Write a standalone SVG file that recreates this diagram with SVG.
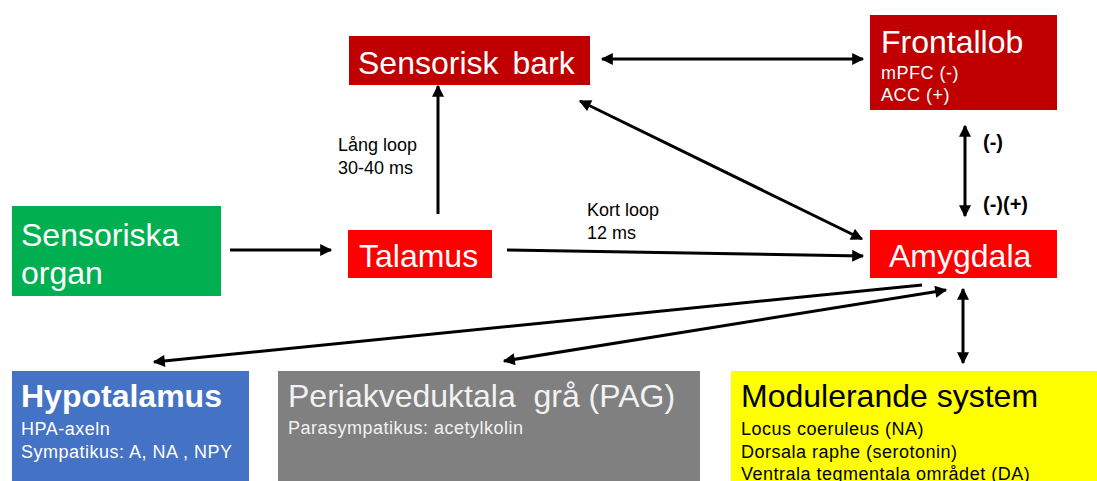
<svg xmlns="http://www.w3.org/2000/svg" width="1097" height="481" viewBox="0 0 1097 481">
<style>
text{font-family:"Liberation Sans",Arial,sans-serif}
.t30{font-size:32px}
.t16{font-size:18px;letter-spacing:0.5px}
.lb{font-size:18px}
.pm{font-size:20px;font-weight:bold}
.w{fill:#fff}
.k{fill:#000}
.ln{stroke:#000;stroke-width:3;fill:none}
</style>
<defs>
<marker id="ah" viewBox="0 0 10 10" refX="9" refY="5" markerWidth="14" markerHeight="12" markerUnits="userSpaceOnUse" orient="auto-start-reverse">
<path d="M0,0 L10,5 L0,10 z" fill="#000"/>
</marker>
</defs>
<rect width="1097" height="481" fill="#fff"/>
<g id="connectors">
<line class="ln" x1="230" y1="250" x2="331" y2="250" marker-end="url(#ah)"/>
<line class="ln" x1="438" y1="214" x2="438" y2="86" marker-end="url(#ah)"/>
<line class="ln" x1="507" y1="250" x2="863" y2="256" marker-end="url(#ah)"/>
<line class="ln" x1="602" y1="59" x2="863" y2="59" marker-start="url(#ah)" marker-end="url(#ah)"/>
<line class="ln" x1="580" y1="101" x2="862" y2="239" marker-start="url(#ah)" marker-end="url(#ah)"/>
<line class="ln" x1="965" y1="126" x2="965" y2="216" marker-start="url(#ah)" marker-end="url(#ah)"/>
<line class="ln" x1="922" y1="285" x2="154" y2="362" marker-end="url(#ah)"/>
<line class="ln" x1="946" y1="290" x2="504" y2="361" marker-start="url(#ah)" marker-end="url(#ah)"/>
<line class="ln" x1="963" y1="289" x2="963" y2="363" marker-start="url(#ah)" marker-end="url(#ah)"/>
</g>
<g id="labels">
<text class="lb k" x="338" y="151">Lång loop</text>
<text class="lb k" x="338" y="174">30-40 ms</text>
<text class="lb k" x="587" y="216">Kort loop</text>
<text class="lb k" x="587" y="239">12 ms</text>
<text class="pm k" x="983" y="149">(-)</text>
<text class="pm k" x="983" y="211">(-)(+)</text>
</g>
<g id="sensorisk-bark">
<rect x="349" y="36" width="241" height="49" fill="#C00000"/>
<text class="t30 w" x="358" y="74" word-spacing="5">Sensorisk bark</text>
</g>
<g id="frontallob">
<rect x="870" y="15" width="187" height="95" fill="#C00000"/>
<text class="t30 w" x="881" y="53">Frontallob</text>
<text class="t16 w" x="881" y="79">mPFC (-)</text>
<text class="t16 w" x="881" y="101">ACC (+)</text>
</g>
<g id="sensoriska-organ">
<rect x="12" y="206" width="209" height="90" fill="#00B050"/>
<text class="t30 w" x="21" y="246">Sensoriska</text>
<text class="t30 w" x="21" y="284">organ</text>
</g>
<g id="talamus">
<rect x="348" y="230" width="144" height="48" fill="#FF0000"/>
<text class="t30 w" x="359" y="267">Talamus</text>
</g>
<g id="amygdala">
<rect x="870" y="230" width="187" height="48" fill="#FF0000"/>
<text class="t30 w" x="889" y="267">Amygdala</text>
</g>
<g id="hypotalamus">
<rect x="12" y="371" width="237" height="110" fill="#4472C4"/>
<text class="t30 w" x="21" y="407" font-weight="bold">Hypotalamus</text>
<text class="t16 w" x="21" y="435">HPA-axeln</text>
<text class="t16 w" x="21" y="458">Sympatikus: A, NA , NPY</text>
</g>
<g id="pag">
<rect x="278" y="371" width="422" height="110" fill="#808080"/>
<text class="t30" fill="#F2F2F2" x="288" y="407" xml:space="preserve">Periakveduktala  grå (PAG)</text>
<text class="t16" fill="#F2F2F2" x="288" y="434">Parasympatikus: acetylkolin</text>
</g>
<g id="modulerande">
<rect x="731" y="371" width="366" height="110" fill="#FFFF00"/>
<text class="t30 k" x="741" y="407">Modulerande system</text>
<text class="t16 k" x="741" y="435">Locus coeruleus (NA)</text>
<text class="t16 k" x="741" y="458">Dorsala raphe (serotonin)</text>
<text class="t16 k" x="741" y="480">Ventrala tegmentala området (DA)</text>
</g>
</svg>
